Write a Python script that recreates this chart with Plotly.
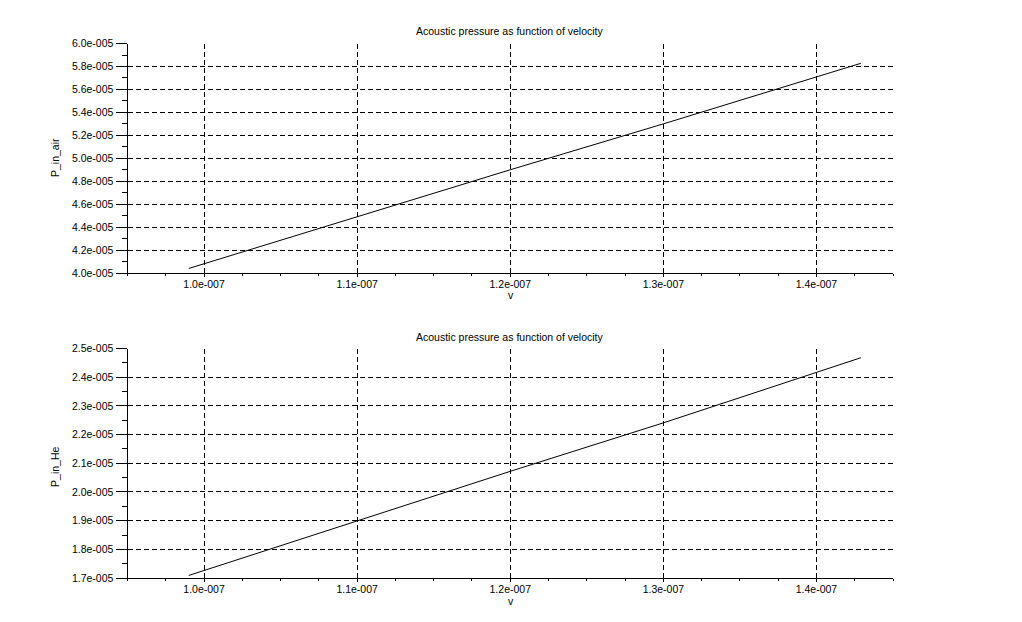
import plotly.graph_objects as go

# ---- data ----
v = [0.99e-7, 1.10e-7, 1.20e-7, 1.30e-7, 1.429e-7]
p_air = [4.04e-5, 4.49e-5, 4.90e-5, 5.30e-5, 5.828e-5]
p_he = [1.709e-5, 1.900e-5, 2.072e-5, 2.241e-5, 2.468e-5]

x_ticks = [1.0e-7, 1.1e-7, 1.2e-7, 1.3e-7, 1.4e-7]
x_ticktext = ["1.0e-007", "1.1e-007", "1.2e-007", "1.3e-007", "1.4e-007"]
x_range = [0.95e-7, 1.45e-7]

air_ticks = [4.0e-5, 4.2e-5, 4.4e-5, 4.6e-5, 4.8e-5, 5.0e-5, 5.2e-5, 5.4e-5, 5.6e-5, 5.8e-5, 6.0e-5]
air_ticktext = ["4.0e-005", "4.2e-005", "4.4e-005", "4.6e-005", "4.8e-005", "5.0e-005",
                "5.2e-005", "5.4e-005", "5.6e-005", "5.8e-005", "6.0e-005"]
he_ticks = [1.7e-5, 1.8e-5, 1.9e-5, 2.0e-5, 2.1e-5, 2.2e-5, 2.3e-5, 2.4e-5, 2.5e-5]
he_ticktext = ["1.7e-005", "1.8e-005", "1.9e-005", "2.0e-005", "2.1e-005", "2.2e-005",
               "2.3e-005", "2.4e-005", "2.5e-005"]

title_text = "Acoustic pressure as function of velocity"
xlabel = "v"
ylabels = ["P_in_air", "P_in_He"]

# ---- layout geometry ----
W, H = 1022, 622
FONT = "Liberation Sans, Arial, sans-serif"
FS = 10.5
x_dom = [127.5 / W, 893 / W]
top_dom = [1 - 272.3 / H, 1 - 38.3 / H]
bot_dom = [1 - 583.3 / H, 1 - 349.3 / H]


def minor_vals(major, n, lo, hi):
    step = (major[1] - major[0]) / n
    out = []
    k = -n
    while True:
        val = major[0] + k * step
        if val > hi + 1e-20:
            break
        if val >= lo - 1e-20 and (k % n) != 0:
            out.append(val)
        k += 1
    return out


fig = go.Figure()
fig.add_trace(go.Scatter(x=v, y=p_air, mode="lines", line=dict(color="black", width=1),
                         xaxis="x", yaxis="y", showlegend=False))
fig.add_trace(go.Scatter(x=v, y=p_he, mode="lines", line=dict(color="black", width=1),
                         xaxis="x2", yaxis="y2", showlegend=False))

tickfont = dict(family=FONT, size=FS, color="black")


def xaxis_cfg(anchor):
    return dict(domain=x_dom, anchor=anchor, range=x_range, tickmode="array",
                tickvals=x_ticks, ticktext=x_ticktext, ticks="outside", ticklen=3,
                ticklabelstandoff=-2,
                tickcolor="black", showline=True, linecolor="black", linewidth=1,
                showgrid=True, gridcolor="black", gridwidth=1, griddash="5px,3px",
                zeroline=False, tickfont=tickfont, mirror=False,
                minor=dict(tickmode="array", tickvals=minor_vals(x_ticks, 4, *x_range),
                           ticks="outside", ticklen=2, tickcolor="black", showgrid=False))


def yaxis_cfg(anchor, dom, ticks, text):
    rng = [ticks[0], ticks[-1]]
    return dict(domain=dom, anchor=anchor, range=rng, tickmode="array",
                tickvals=ticks, ticktext=text, ticks="outside", ticklen=11,
                tickcolor="black", showline=True, linecolor="black", linewidth=1,
                showgrid=True, gridcolor="black", gridwidth=1, griddash="5px,3px",
                zeroline=False, tickfont=tickfont,
                minor=dict(tickmode="array", tickvals=minor_vals(ticks, 2, *rng),
                           ticks="outside", ticklen=5, tickcolor="black", showgrid=False))


fig.update_layout(
    width=W, height=H,
    margin=dict(l=0, r=0, t=0, b=0),
    paper_bgcolor="white", plot_bgcolor="white",
    xaxis=xaxis_cfg("y"),
    yaxis=yaxis_cfg("x", top_dom, air_ticks, air_ticktext),
    xaxis2=xaxis_cfg("y2"),
    yaxis2=yaxis_cfg("x2", bot_dom, he_ticks, he_ticktext),
)

ann_font = dict(family=FONT, size=FS, color="black")
annotations = []
for yc in (26, 338):
    annotations.append(dict(text=title_text, x=510 / W, y=1 - yc / H, xref="paper", yref="paper",
                            showarrow=False, font=ann_font, xanchor="center", yanchor="middle"))
for yc in (295, 607):
    annotations.append(dict(text=xlabel, x=511 / W, y=1 - yc / H, xref="paper", yref="paper",
                            showarrow=False, font=ann_font, xanchor="center", yanchor="middle"))
for lbl, yc in zip(ylabels, (155, 470)):
    annotations.append(dict(text=lbl, x=55 / W, y=1 - yc / H, xref="paper", yref="paper",
                            showarrow=False, font=ann_font, textangle=-90,
                            xanchor="center", yanchor="middle"))
fig.update_layout(annotations=annotations)

fig.write_html("out.html")
